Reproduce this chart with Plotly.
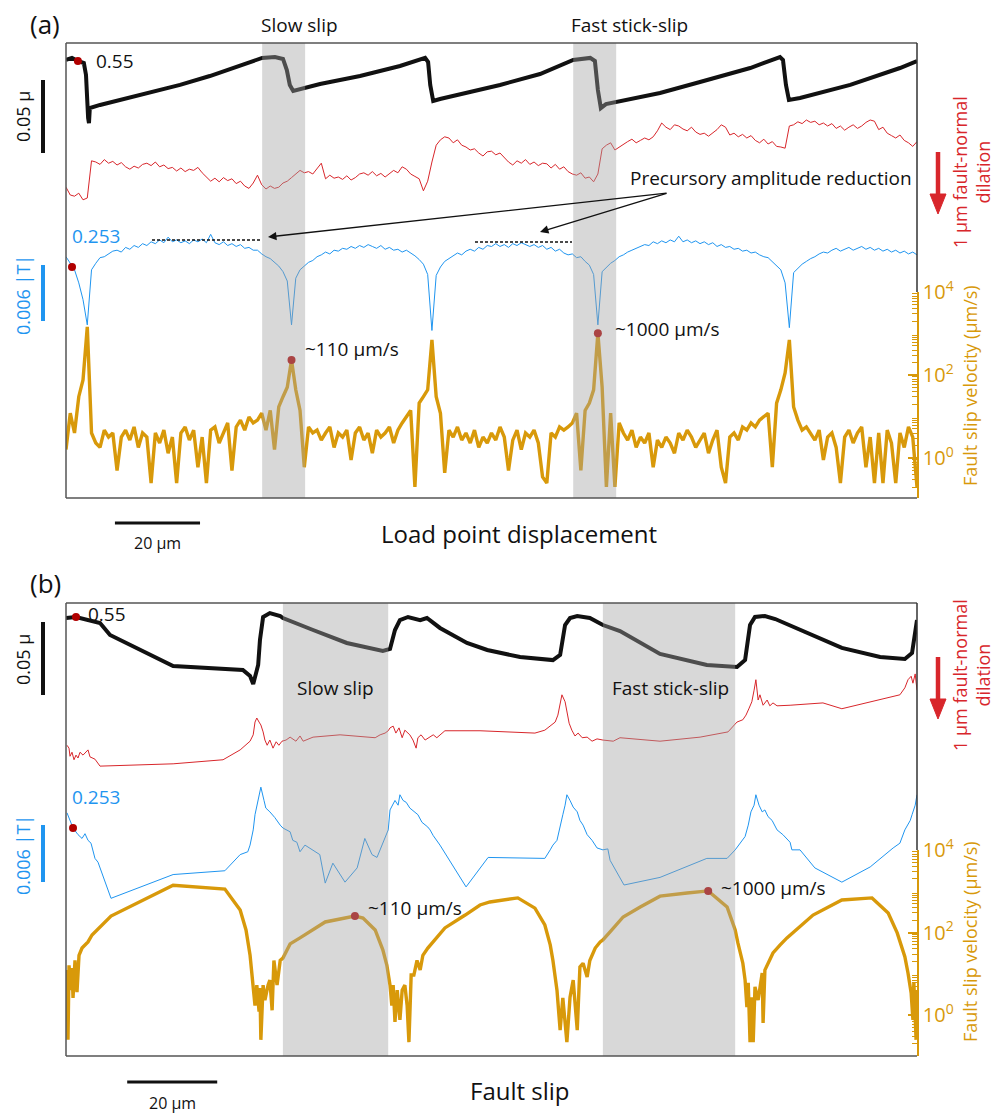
import numpy as np
import plotly.graph_objects as go

# ---------------- DATA ----------------
# Panel (a): versus load point displacement (um)
friction_a_x = [0, 1.4, 2.8, 4.2, 4.7, 4.9, 5.2, 5.4, 5.6, 8.0, 12.7, 19.7, 26.8, 33.8, 40.9, 46.1, 49.1, 51.0, 51.9, 52.6,
                53.4, 55.0, 59.7, 69.1, 78.5, 84.4, 85.1, 85.6, 86.3, 87.9, 95.0, 102.0, 111.4, 119.2, 123.2, 124.3, 125.0, 125.7, 126.9, 130.2,
                139.6, 149.0, 160.8, 167.8, 168.5, 169.2, 169.9, 172.5, 184.3, 196.0, 200.0]
friction_a = [0.5507, 0.5521, 0.5500, 0.5486, 0.5404, 0.5233, 0.5110, 0.5075, 0.5178, 0.5199,
              0.5233, 0.5281, 0.5336, 0.5397, 0.5466, 0.5521, 0.5527, 0.5514, 0.5438, 0.5336,
              0.5295, 0.5308, 0.5342, 0.5397, 0.5466, 0.5521, 0.5493, 0.5336, 0.5226, 0.5240,
              0.5288, 0.5336, 0.5411, 0.5507, 0.5521, 0.5500, 0.5301, 0.5178, 0.5205, 0.5226,
              0.5281, 0.5356, 0.5452, 0.5527, 0.5507, 0.5336, 0.5233, 0.5247, 0.5336, 0.5452, 0.5500]

lp_step_um = 1.0  # sampling interval of the noisy records in panel (a)
dilation_a_um = [1.12, 1.25, 1.27, 1.22, 1.33, 1.30, 0.68, 0.70, 0.74, 0.66,
                 0.72, 0.69, 0.75, 0.71, 0.78, 0.82, 0.77, 0.80, 0.74, 0.72,
                 0.76, 0.70, 0.78, 0.75, 0.81, 0.79, 0.85, 0.80, 0.86, 0.82,
                 0.84, 0.79, 0.88, 0.95, 1.02, 0.97, 1.03, 0.96, 1.01, 0.98,
                 1.06, 1.02, 1.10, 1.14, 1.05, 0.92, 1.08, 1.15, 1.10, 1.14,
                 1.12, 1.05, 1.02, 0.96, 0.90, 0.84, 0.88, 0.86, 0.90, 0.80,
                 0.72, 0.98, 0.92, 0.97, 0.95, 0.99, 0.93, 1.00, 0.96, 0.90,
                 0.88, 0.92, 0.86, 0.93, 0.89, 0.95, 0.90, 0.84, 0.88, 0.78,
                 0.82, 0.90, 0.94, 0.98, 1.18, 1.02, 0.70, 0.42, 0.33, 0.28,
                 0.30, 0.38, 0.33, 0.42, 0.45, 0.50, 0.48, 0.55, 0.60, 0.53,
                 0.52, 0.58, 0.55, 0.62, 0.70, 0.75, 0.68, 0.72, 0.66, 0.74,
                 0.70, 0.76, 0.72, 0.73, 0.80, 0.74, 0.82, 0.78, 0.86, 0.90,
                 0.92, 0.88, 0.97, 0.95, 1.03, 0.90, 0.48, 0.42, 0.38, 0.50,
                 0.45, 0.40, 0.36, 0.32, 0.38, 0.34, 0.30, 0.33, 0.28, 0.18,
                 0.05, 0.12, 0.16, 0.08, 0.10, 0.15, 0.18, 0.12, 0.20, 0.24,
                 0.22, 0.27, 0.22, 0.16, 0.08, 0.12, 0.25, 0.22, 0.28, 0.24,
                 0.30, 0.26, 0.34, 0.38, 0.32, 0.40, 0.36, 0.44, 0.45, 0.47,
                 0.10, 0.08, 0.03, 0.06, 0.00, 0.04, 0.02, 0.08, 0.05, 0.10,
                 0.06, 0.14, 0.10, 0.17, 0.12, 0.08, 0.14, 0.10, 0.04, 0.00,
                 0.02, 0.16, 0.12, 0.22, 0.26, 0.30, 0.25, 0.34, 0.38, 0.44, 0.36]
transmissivity_a = [0.2541, 0.2534, 0.2527, 0.2513, 0.2495, 0.2468, 0.2527, 0.2534, 0.2540, 0.2541,
                    0.2544, 0.2547, 0.2548, 0.2546, 0.2551, 0.2549, 0.2553, 0.2551, 0.2555, 0.2553,
                    0.2557, 0.2555, 0.2559, 0.2556, 0.2562, 0.2557, 0.2559, 0.2556, 0.2558, 0.2555,
                    0.2559, 0.2557, 0.2560, 0.2556, 0.2565, 0.2556, 0.2554, 0.2557, 0.2553, 0.2555,
                    0.2552, 0.2554, 0.2550, 0.2551, 0.2548, 0.2548, 0.2544, 0.2541, 0.2539, 0.2535,
                    0.2531, 0.2525, 0.2515, 0.2468, 0.2518, 0.2527, 0.2531, 0.2535, 0.2537, 0.2541,
                    0.2543, 0.2546, 0.2544, 0.2548, 0.2547, 0.2550, 0.2549, 0.2552, 0.2550, 0.2553,
                    0.2551, 0.2554, 0.2552, 0.2550, 0.2553, 0.2549, 0.2551, 0.2548, 0.2549, 0.2546,
                    0.2548, 0.2545, 0.2542, 0.2538, 0.2533, 0.2522, 0.2462, 0.2521, 0.2530, 0.2536,
                    0.2539, 0.2542, 0.2545, 0.2543, 0.2547, 0.2549, 0.2547, 0.2551, 0.2549, 0.2553,
                    0.2552, 0.2555, 0.2552, 0.2554, 0.2551, 0.2555, 0.2553, 0.2556, 0.2554, 0.2552,
                    0.2554, 0.2551, 0.2553, 0.2549, 0.2551, 0.2547, 0.2549, 0.2545, 0.2543, 0.2544,
                    0.2540, 0.2541, 0.2536, 0.2532, 0.2522, 0.2468, 0.2525, 0.2530, 0.2534, 0.2537,
                    0.2541, 0.2543, 0.2546, 0.2548, 0.2550, 0.2552, 0.2554, 0.2553, 0.2557, 0.2555,
                    0.2558, 0.2556, 0.2559, 0.2557, 0.2563, 0.2557, 0.2559, 0.2556, 0.2558, 0.2555,
                    0.2557, 0.2554, 0.2556, 0.2552, 0.2554, 0.2551, 0.2552, 0.2549, 0.2550, 0.2547,
                    0.2548, 0.2545, 0.2546, 0.2543, 0.2541, 0.2540, 0.2536, 0.2532, 0.2527, 0.2513,
                    0.2465, 0.2524, 0.2529, 0.2533, 0.2536, 0.2539, 0.2541, 0.2544, 0.2546, 0.2545,
                    0.2548, 0.2550, 0.2547, 0.2549, 0.2551, 0.2548, 0.2550, 0.2552, 0.2549, 0.2551,
                    0.2548, 0.2550, 0.2547, 0.2549, 0.2546, 0.2548, 0.2545, 0.2547, 0.2544, 0.2546, 0.2543]
slip_velocity_a = [1.6, 12, 4.0, 30, 76, 1440, 4.0, 2.3, 1.8, 4.7,
                   3.2, 4.0, 0.5, 3.2, 4.7, 2.7, 5.6, 1.8, 4.0, 3.2,
                   0.25, 4.0, 2.3, 4.7, 1.3, 3.2, 0.25, 4.0, 5.6, 2.7,
                   4.7, 0.6, 3.2, 0.25, 4.7, 5.6, 2.3, 4.0, 7.0, 0.5,
                   5.6, 8.2, 4.7, 9.7, 7.0, 8.2, 12, 4.7, 14, 1.6,
                   17, 30, 51, 230, 44, 14, 0.6, 5.6, 4.0, 4.7,
                   2.7, 4.0, 5.6, 1.8, 4.0, 3.2, 4.7, 0.9, 4.0, 5.6,
                   2.7, 4.0, 1.3, 4.7, 3.2, 4.0, 5.6, 2.3, 4.7, 7.0,
                   9.7, 14, 0.2, 21, 30, 44, 700, 30, 12, 0.44,
                   4.7, 3.2, 5.6, 2.7, 4.0, 2.3, 4.7, 1.8, 3.2, 2.3,
                   4.0, 2.7, 5.6, 3.2, 0.5, 2.7, 4.7, 1.6, 4.0, 3.2,
                   4.7, 2.3, 0.35, 0.25, 4.0, 3.2, 5.6, 4.7, 5.6, 7.0,
                   12, 0.5, 14, 21, 44, 1020, 51, 0.2, 12, 0.2,
                   7.0, 4.0, 2.7, 4.7, 1.8, 3.2, 2.3, 4.0, 0.6, 2.7,
                   1.8, 3.2, 2.3, 1.3, 4.0, 2.7, 4.7, 3.2, 1.8, 2.7,
                   4.0, 1.3, 2.7, 4.7, 0.6, 0.25, 3.2, 4.0, 2.7, 5.6,
                   4.7, 7.0, 5.6, 8.2, 9.7, 12, 0.6, 21, 44, 112,
                   700, 17, 8.2, 4.7, 5.6, 4.0, 2.7, 4.7, 0.9, 3.2,
                   4.0, 1.8, 0.25, 3.2, 4.7, 2.3, 4.0, 5.6, 0.6, 3.2,
                   0.25, 4.0, 0.25, 4.7, 2.3, 0.25, 4.0, 1.8, 5.6, 3.2, 0.2]
load_point_um = np.arange(len(dilation_a_um)) * lp_step_um

# highlighted points in panel (a)
mark_a_fric = ([2.8], [0.55])
mark_a_trans = ([1.41], [0.253])
mark_a_vel = ([53, 125], [230, 1020])

# Panel (b): versus fault slip (um)
friction_b_x = [0.0, 2.22, 7.56, 9.78, 23.8, 39.3, 40.9, 41.6, 42.7, 43.1,
                43.8, 45.3, 47.6, 48.2, 54.9, 62.4, 70.4, 72.0, 73.1, 74.2,
                76.0, 78.7, 80.2, 83.1, 89.1, 93.6, 100.9, 108.2, 109.8, 110.9,
                112.0, 113.6, 116.4, 119.3, 123.1, 132.0, 142.4, 149.1, 150.9, 152.0,
                153.1, 155.3, 157.6, 163.1, 172.4, 180.9, 186.4, 188.0, 189.1]
friction_b = [0.5493, 0.5500, 0.5459, 0.5377, 0.5164, 0.5137, 0.5096, 0.5041, 0.5171, 0.5342,
              0.5500, 0.5527, 0.5507, 0.5493, 0.5411, 0.5322, 0.5267, 0.5281, 0.5411, 0.5479,
              0.5500, 0.5479, 0.5493, 0.5425, 0.5322, 0.5274, 0.5226, 0.5205, 0.5240, 0.5445,
              0.5493, 0.5507, 0.5493, 0.5445, 0.5404, 0.5247, 0.5171, 0.5158, 0.5205, 0.5445,
              0.5500, 0.5507, 0.5486, 0.5411, 0.5288, 0.5226, 0.5212, 0.5253, 0.5479]
dilation_b_x = [0.22, 0.67, 0.89, 1.33, 1.78, 2.22, 2.67, 3.11, 3.78, 4.44,
                4.89, 5.33, 6.44, 7.56, 23.8, 34.9, 38.7, 40.9, 41.6, 42.0,
                42.4, 42.9, 43.3, 43.8, 44.2, 44.7, 45.3, 46.0, 46.7, 47.3,
                48.0, 48.9, 49.8, 51.1, 52.0, 52.7, 54.9, 60.9, 67.6, 68.7,
                69.8, 70.9, 71.6, 72.0, 72.7, 73.3, 74.0, 74.7, 75.3, 76.4,
                77.1, 77.8, 78.2, 78.9, 79.8, 80.9, 81.6, 82.4, 84.2, 92.0,
                104.2, 106.4, 107.6, 108.7, 109.3, 110.2, 110.9, 111.3, 111.8, 112.4,
                113.1, 113.8, 114.7, 115.8, 116.9, 118.0, 119.3, 121.6, 123.1, 132.0,
                140.9, 147.1, 149.1, 150.4, 151.1, 151.8, 152.4, 152.9, 153.3, 153.8,
                154.2, 154.9, 155.8, 156.4, 157.1, 158.0, 160.9, 168.2, 172.4, 185.3,
                186.4, 187.1, 187.8, 188.2, 188.7, 189.1]
dilation_b_um = [1.47, 1.52, 1.66, 1.59, 1.72, 1.64, 1.69, 1.59, 1.64, 1.59,
                 1.55, 1.67, 1.71, 1.83, 1.79, 1.72, 1.55, 1.40, 1.29, 1.07,
                 1.00, 1.07, 1.12, 1.24, 1.38, 1.47, 1.38, 1.52, 1.41, 1.47,
                 1.40, 1.38, 1.33, 1.40, 1.31, 1.40, 1.33, 1.29, 1.33, 1.34,
                 1.29, 1.26, 1.22, 1.17, 1.14, 1.26, 1.17, 1.34, 1.21, 1.29,
                 1.38, 1.52, 1.34, 1.29, 1.38, 1.33, 1.29, 1.34, 1.22, 1.22,
                 1.26, 1.21, 1.14, 1.07, 0.95, 0.60, 0.72, 0.90, 1.09, 1.21,
                 1.31, 1.26, 1.34, 1.33, 1.40, 1.36, 1.38, 1.40, 1.34, 1.40,
                 1.33, 1.24, 1.07, 1.03, 0.95, 0.83, 0.72, 0.52, 0.34, 0.69,
                 0.60, 0.78, 0.69, 0.79, 0.74, 0.79, 0.78, 0.74, 0.84, 0.60,
                 0.48, 0.34, 0.28, 0.40, 0.24, 0.52]
transmissivity_b_x = [0.22, 0.89, 1.56, 2.67, 3.56, 4.22, 4.89, 5.56, 6.44, 7.11,
                      10.0, 23.8, 35.3, 38.7, 40.4, 40.9, 41.6, 42.0, 42.7, 43.3,
                      44.0, 44.4, 45.3, 46.4, 47.6, 48.2, 49.8, 50.4, 51.3, 52.0,
                      53.1, 54.9, 56.4, 57.6, 59.3, 62.0, 64.7, 66.4, 68.0, 69.1,
                      70.9, 71.6, 72.0, 73.1, 73.8, 74.2, 74.9, 75.6, 76.4, 77.3,
                      78.2, 79.1, 80.4, 80.9, 81.6, 83.1, 88.9, 93.8, 106.4, 107.6,
                      108.2, 109.1, 109.8, 110.4, 110.9, 111.3, 112.0, 112.7, 113.6, 114.2,
                      114.9, 115.8, 116.9, 118.0, 119.3, 120.4, 120.9, 124.0, 132.0, 142.4,
                      146.9, 148.7, 150.9, 151.6, 152.2, 152.9, 153.3, 154.0, 154.7, 155.3,
                      156.0, 156.9, 158.0, 158.7, 159.3, 160.9, 161.3, 163.1, 166.4, 172.4,
                      178.7, 183.8, 185.3, 186.4, 187.6, 188.0, 188.7, 189.1]
transmissivity_b = [0.2546, 0.2538, 0.2530, 0.2523, 0.2519, 0.2524, 0.2517, 0.2514, 0.2498, 0.2494,
                    0.2456, 0.2481, 0.2485, 0.2502, 0.2505, 0.2512, 0.2528, 0.2544, 0.2559, 0.2573,
                    0.2559, 0.2551, 0.2547, 0.2541, 0.2533, 0.2530, 0.2526, 0.2517, 0.2515, 0.2505,
                    0.2512, 0.2507, 0.2502, 0.2472, 0.2493, 0.2473, 0.2488, 0.2519, 0.2502, 0.2499,
                    0.2519, 0.2528, 0.2549, 0.2559, 0.2554, 0.2565, 0.2559, 0.2557, 0.2551, 0.2547,
                    0.2544, 0.2536, 0.2531, 0.2528, 0.2522, 0.2512, 0.2468, 0.2499, 0.2498, 0.2507,
                    0.2512, 0.2517, 0.2533, 0.2544, 0.2554, 0.2565, 0.2559, 0.2552, 0.2547, 0.2538,
                    0.2533, 0.2523, 0.2517, 0.2509, 0.2507, 0.2508, 0.2496, 0.2470, 0.2478, 0.2498,
                    0.2498, 0.2507, 0.2521, 0.2533, 0.2547, 0.2554, 0.2565, 0.2554, 0.2547, 0.2549,
                    0.2542, 0.2538, 0.2528, 0.2525, 0.2523, 0.2515, 0.2507, 0.2507, 0.2488, 0.2473,
                    0.2489, 0.2509, 0.2514, 0.2528, 0.2538, 0.2544, 0.2554, 0.2565]
slip_velocity_b_x = [0.0, 0.22, 0.44, 0.67, 1.11, 1.33, 1.56, 2.0, 2.44, 2.89,
                     3.56, 4.22, 4.89, 5.78, 10.0, 23.8, 35.3, 38.7, 40.0, 40.9,
                     41.6, 42.0, 42.4, 42.9, 43.1, 43.3, 43.8, 44.2, 44.9, 45.3,
                     45.8, 46.2, 46.9, 47.6, 48.2, 49.8, 52.0, 57.6, 64.2, 66.0,
                     68.7, 70.4, 71.3, 72.0, 72.4, 72.7, 73.1, 73.6, 74.2, 74.7,
                     75.3, 75.8, 76.2, 76.7, 77.3, 78.0, 78.7, 79.3, 80.4, 82.0,
                     84.2, 88.7, 92.0, 94.2, 100.4, 104.2, 106.4, 107.6, 108.2, 109.1,
                     109.8, 110.4, 111.3, 112.0, 112.7, 113.6, 114.2, 114.9, 115.8, 116.4,
                     117.6, 118.7, 119.3, 120.9, 123.8, 127.6, 132.0, 138.0, 142.7, 146.9,
                     148.7, 149.3, 150.4, 150.9, 151.3, 151.6, 152.0, 152.4, 152.7, 153.1,
                     153.8, 154.7, 154.9, 155.3, 156.0, 157.1, 158.7, 160.2, 166.0, 172.4,
                     179.1, 182.7, 184.7, 186.4, 187.1, 187.8, 188.2, 188.4, 188.9, 189.1]
slip_velocity_b = [1.48, 12.3, 0.25, 16, 4.0, 13.8, 2.6, 21, 3.6, 28,
                   42, 50, 59, 87, 250, 1400, 1130, 350, 115, 28,
                   5.3, 1.7, 5.3, 1.2, 4.5, 0.25, 5.3, 2.3, 5.3, 7.0,
                   1.3, 21, 5.3, 21, 24, 53, 74, 180, 250, 225,
                   115, 38, 16, 5.3, 1.7, 5.3, 0.68, 4.0, 0.76, 4.0,
                   5.3, 1.7, 0.22, 9.3, 9.3, 21, 12.3, 28, 42, 66,
                   129, 265, 465, 550, 690, 390, 152, 50, 21, 4.0,
                   0.43, 2.6, 0.22, 2.7, 7.0, 0.43, 14.6, 18, 8.3, 21,
                   42, 59, 66, 103, 238, 415, 760, 910, 1020, 415,
                   115, 56, 18, 7.0, 1.56, 6.0, 0.22, 2.7, 0.22, 4.8,
                   2.3, 10.4, 0.64, 12.3, 18, 32, 50, 74, 265, 615,
                   690, 297, 98, 26, 10.4, 3.4, 0.76, 6.0, 0.25, 4.0]
mark_b_fric = ([2.22], [0.55])
mark_b_trans = ([1.56], [0.253])
mark_b_vel = ([64.2, 142.7], [250, 1020])

# shaded episodes (um)
bands_a = [(46.1, 56.2), (119.2, 129.3)]
bands_b = [(48.2, 71.6), (119.3, 148.7)]
scalebar_a = (11.5, 31.5)
scalebar_b = (13.6, 33.6)

# ---------------- STYLE / LAYOUT ----------------
W, H = 1005, 1113
FONT = "Open Sans, Noto Sans, sans-serif"
BLACK = "#111111"
RED = "#d8262b"
BLUE = "#1f95f0"
GOLD = "#d8990a"
DOT = "#b00000"
FRAME = "#555555"
L, R = 66, 917
A_T, A_B = 43, 498
B_T, B_B = 603, 1056


def px(x):
    return x / W


def py(y):
    return 1 - y / H


def lin_range(ref_val, ref_px, per_px, top, bot, down_positive=False):
    if down_positive:
        return [ref_val + (bot - ref_px) * per_px, ref_val - (ref_px - top) * per_px]
    return [ref_val - (bot - ref_px) * per_px, ref_val + (ref_px - top) * per_px]


fig = go.Figure()


def line(x, y, xa, ya, color, width):
    fig.add_trace(go.Scatter(x=x, y=y, xaxis=xa, yaxis=ya, mode="lines",
                             line=dict(color=color, width=width), hoverinfo="skip", showlegend=False))


def dots(pt, xa, ya):
    fig.add_trace(go.Scatter(x=pt[0], y=pt[1], xaxis=xa, yaxis=ya, mode="markers",
                             marker=dict(color=DOT, size=8), hoverinfo="skip", showlegend=False))


# panel a
line(friction_a_x, friction_a, "x", "y", BLACK, 4)
line(load_point_um, dilation_a_um, "x", "y2", RED, 1)
line(load_point_um, transmissivity_a, "x", "y3", BLUE, 1)
line(load_point_um, slip_velocity_a, "x", "y4", GOLD, 3.4)
dots(mark_a_fric, "x", "y")
dots(mark_a_trans, "x", "y3")
dots(mark_a_vel, "x", "y4")
# panel b
line(friction_b_x, friction_b, "x2", "y5", BLACK, 4)
line(dilation_b_x, dilation_b_um, "x2", "y6", RED, 1)
line(transmissivity_b_x, transmissivity_b, "x2", "y7", BLUE, 1)
line(slip_velocity_b_x, slip_velocity_b, "x2", "y8", GOLD, 3.4)
dots(mark_b_fric, "x2", "y5")
dots(mark_b_trans, "x2", "y7")
dots(mark_b_vel, "x2", "y8")

hidden = dict(visible=False, showgrid=False, zeroline=False, fixedrange=True, automargin=False)
minor_vals = [m * 10 ** e for e in range(-1, 4) for m in range(2, 10)]


def vel_axis(top_px, bot_px, zero_px, anchor):
    per_dec = (zero_px - top_px) / 4.0
    lo = -(bot_px - zero_px) / per_dec
    return dict(domain=[py(bot_px), py(top_px)], type="log", range=[lo, 4.0], anchor=anchor,
                side="right", showgrid=False, zeroline=False, showline=True, linecolor=GOLD, linewidth=1.5,
                ticks="inside", ticklen=9, tickwidth=1.5, tickcolor=GOLD, automargin=False,
                tickvals=[1, 100, 10000], ticktext=["10<sup>0</sup>", "10<sup>2</sup>", "10<sup>4</sup>"],
                tickfont=dict(family=FONT, size=20, color=GOLD), fixedrange=True,
                minor=dict(tickvals=minor_vals, ticks="inside", ticklen=5, tickwidth=1, tickcolor=GOLD))


fig.update_layout(
    template="none",
    width=W, height=H, autosize=False,
    margin=dict(l=0, r=0, t=0, b=0, pad=0, autoexpand=False),
    paper_bgcolor="white", plot_bgcolor="rgba(0,0,0,0)",
    font=dict(family=FONT, color=BLACK),
    showlegend=False,
    xaxis=dict(domain=[px(L), px(R)], range=[0, 200], anchor="y", **hidden),
    yaxis=dict(domain=[py(A_B), py(A_T)], range=lin_range(0.55, 61, 0.05 / 73, A_T, A_B), anchor="x", **hidden),
    yaxis2=dict(overlaying="y", range=lin_range(0.0, 120, 1 / 60, A_T, A_B, True), anchor="x", **hidden),
    yaxis3=dict(overlaying="y", range=lin_range(0.253, 267, 0.006 / 56, A_T, A_B), anchor="x", **hidden),
    yaxis4=vel_axis(292, A_B, 458, "x"),
    xaxis2=dict(domain=[px(L), px(R)], range=[0, 189.1], anchor="y5", **hidden),
    yaxis5=dict(domain=[py(B_B), py(B_T)], range=lin_range(0.55, 617, 0.05 / 73, B_T, B_B), anchor="x2", **hidden),
    yaxis6=dict(overlaying="y5", range=lin_range(0.0, 660, 1 / 58, B_T, B_B, True), anchor="x2", **hidden),
    yaxis7=dict(overlaying="y5", range=lin_range(0.253, 828, 0.006 / 57, B_T, B_B), anchor="x2", **hidden),
    yaxis8=vel_axis(850, B_B, 1015, "x2"),
)

shapes = []
GRAY = "rgba(163,163,163,0.42)"
for x0, x1 in bands_a:
    shapes.append(dict(type="rect", xref="x", yref="paper", x0=x0, x1=x1, y0=py(A_B), y1=py(A_T),
                       fillcolor=GRAY, line=dict(width=0), layer="above"))
for x0, x1 in bands_b:
    shapes.append(dict(type="rect", xref="x2", yref="paper", x0=x0, x1=x1, y0=py(B_B), y1=py(B_T),
                       fillcolor=GRAY, line=dict(width=0), layer="above"))


def pline(x0, y0, x1, y1, color, width, dash=None):
    d = dict(type="line", xref="paper", yref="paper", x0=px(x0), y0=py(y0), x1=px(x1), y1=py(y1),
             line=dict(color=color, width=width), layer="above")
    if dash:
        d["line"]["dash"] = dash
    shapes.append(d)


# frames
for T, Bm, gold_top in [(A_T, A_B, 292), (B_T, B_B, 850)]:
    pline(L, T, R, T, FRAME, 1.5)
    pline(L, T, L, Bm, FRAME, 1.5)
    pline(L, Bm, R, Bm, FRAME, 1.5)
    pline(R, T, R, gold_top, "#333333", 1.5)

# vertical scale bars
pline(43, 80, 43, 153, BLACK, 4)
pline(43, 265, 43, 321, BLUE, 4)
pline(43, 622, 43, 695, BLACK, 4)
pline(43, 825, 43, 882, BLUE, 4)
# dashed reference lines
pline(152, 240, 262, 240, BLACK, 1.3, "3px,2px")
pline(475, 242, 572, 242, BLACK, 1.3, "3px,2px")
# horizontal 20 um bars
shapes.append(dict(type="line", xref="x", yref="paper", x0=scalebar_a[0], x1=scalebar_a[1], y0=py(523), y1=py(523),
                   line=dict(color=BLACK, width=3)))
shapes.append(dict(type="line", xref="x2", yref="paper", x0=scalebar_b[0], x1=scalebar_b[1], y0=py(1082), y1=py(1082),
                   line=dict(color=BLACK, width=3)))
# red dilation arrows
for y0 in (152, 657):
    pline(938, y0, 938, y0 + 44, RED, 4.5)
    path = "M {} {} L {} {} L {} {} Z".format(px(930), py(y0 + 42), px(946), py(y0 + 42), px(938), py(y0 + 62))
    shapes.append(dict(type="path", xref="paper", yref="paper", path=path, fillcolor=RED, line=dict(color=RED, width=1)))

fig.update_layout(shapes=shapes)

ann = []


def txt(s, x, y, size=18, color=BLACK, xanchor="center", angle=0):
    ann.append(dict(text=s, x=px(x), y=py(y), xref="paper", yref="paper", showarrow=False,
                    font=dict(family=FONT, size=size, color=color), xanchor=xanchor, yanchor="middle",
                    textangle=angle))


txt("(a)", 45, 24, 26)
txt("Slow slip", 299, 25, 19)
txt("Fast stick-slip", 629, 25, 19)
txt("0.55", 94, 61, 19, xanchor="left")
txt("0.253", 70, 236, 19, BLUE, "left")
txt("~110 µm/s", 303, 349, 19, xanchor="left")
txt("~1000 µm/s", 613, 329, 19, xanchor="left")
txt("Precursory amplitude reduction", 628, 178, 19, xanchor="left")
txt("0.05 µ", 23, 117, 18, angle=-90)
txt("0.006 |T|", 23, 295, 18, BLUE, angle=-90)
txt("1 µm fault-normal<br>dilation", 971, 172, 18, RED, angle=-90)
txt("Fault slip velocity (µm/s)", 970, 386, 18, GOLD, angle=-90)
txt("20 µm", 157, 543, 16)
txt("Load point displacement", 519, 533, 24)

txt("(b)", 45, 583, 26)
txt("0.55", 86, 614, 19, xanchor="left")
txt("Slow slip", 335, 688, 19)
txt("Fast stick-slip", 670, 688, 19)
txt("0.253", 70, 797, 19, BLUE, "left")
txt("~110 µm/s", 366, 908, 19, xanchor="left")
txt("~1000 µm/s", 719, 888, 19, xanchor="left")
txt("0.05 µ", 23, 660, 18, angle=-90)
txt("0.006 |T|", 23, 855, 18, BLUE, angle=-90)
txt("1 µm fault-normal<br>dilation", 971, 675, 18, RED, angle=-90)
txt("Fault slip velocity (µm/s)", 970, 942, 18, GOLD, angle=-90)
txt("20 µm", 172, 1103, 16)
txt("Fault slip", 520, 1090, 24)

# precursory arrows
for hx, hy in [(268, 237), (540, 232)]:
    ann.append(dict(text="", x=px(hx), y=py(hy), xref="paper", yref="paper", showarrow=True,
                    ax=668 - hx, ay=193 - hy, arrowhead=2, arrowsize=1.3, arrowwidth=1.3,
                    arrowcolor=BLACK, standoff=0, startstandoff=0))

fig.update_layout(annotations=ann)

fig.write_html("out.html", config={"displayModeBar": False},
               post_script="document.body.style.margin='0';document.body.style.overflow='hidden';")
